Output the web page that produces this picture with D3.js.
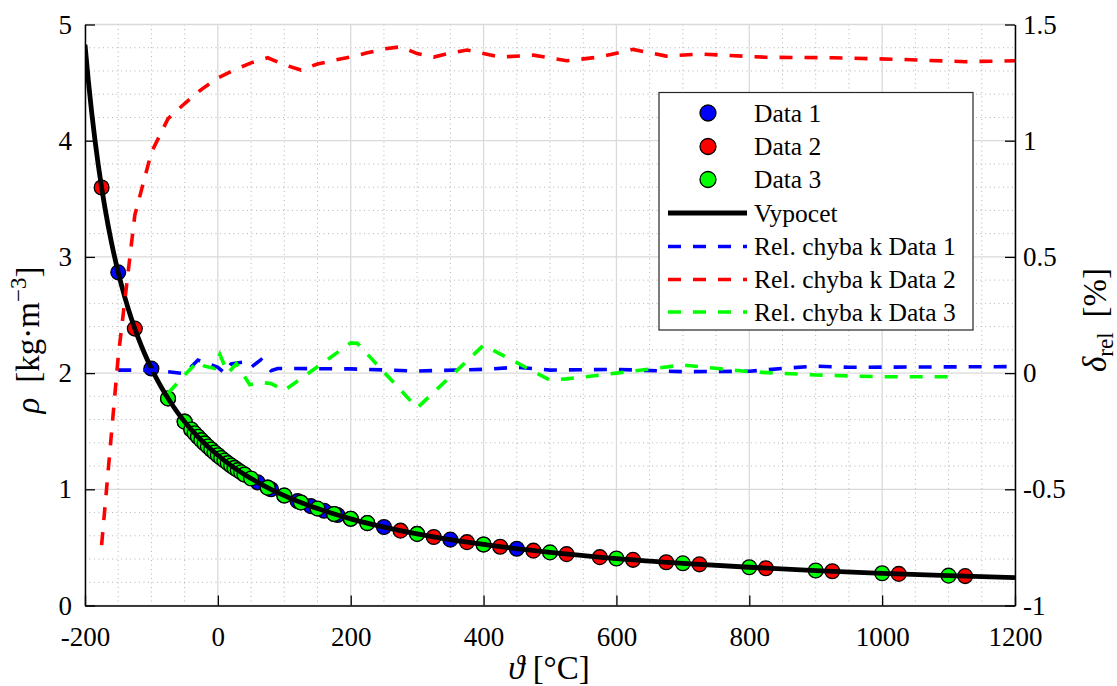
<!DOCTYPE html>
<html><head><meta charset="utf-8">
<script src="https://cdn.jsdelivr.net/npm/d3@7"></script>
<style>
body{margin:0;background:#fff;}
svg{display:block;}
</style>
</head><body>
<svg id="chart" width="1117" height="686"></svg>
<script>
// ---------- DATA ----------
const curveT   = [-200,-195,-190,-185,-180,-170,-160,-150,-140,-130,-120,-110,-100,-90,-80,-70,-60,-50,-40,-20,0,20,40,60,80,100,150,200,250,300,350,400,500,600,700,800,900,1000,1100,1200];
const curveRho = [4.826,4.518,4.246,4.005,3.790,3.423,3.120,2.867,2.652,2.466,2.305,2.164,2.039,1.928,1.828,1.738,1.656,1.582,1.514,1.395,1.293,1.204,1.127,1.060,1.000,0.946,0.834,0.746,0.675,0.616,0.567,0.525,0.457,0.404,0.363,0.329,0.301,0.277,0.257,0.240];

const data1T   = [-150,-100,-50,-40,-30,-20,-10,0,20,40,60,80,100,120,140,160,180,200,250,300,350,400,450];
const data1Rho = [2.867,2.039,1.582,1.514,1.452,1.395,1.342,1.293,1.204,1.127,1.060,1.000,0.946,0.898,0.855,0.815,0.779,0.746,0.675,0.616,0.567,0.525,0.488];

const data2T   = [-175,-125,-75,-25,25,75,125,175,225,275,325,375,425,475,525,575,625,675,725,825,925,1025,1125];
const data2Rho = [3.597,2.383,1.782,1.423,1.184,1.014,0.887,0.788,0.709,0.644,0.590,0.545,0.506,0.472,0.442,0.416,0.393,0.372,0.354,0.321,0.295,0.272,0.253];

const data3T   = [-75,-50,-40,-35,-30,-25,-20,-15,-10,-5,0,5,10,15,20,25,30,35,40,50,75,100,125,150,175,200,225,300,400,500,600,700,800,900,1000,1100];
const data3Rho = [1.782,1.582,1.514,1.482,1.452,1.423,1.395,1.368,1.342,1.317,1.293,1.269,1.247,1.225,1.204,1.184,1.165,1.146,1.127,1.093,1.014,0.946,0.887,0.834,0.788,0.746,0.709,0.616,0.525,0.457,0.404,0.363,0.329,0.301,0.277,0.257];

const err1T = [-150,-100,-50,-30,0,10,20,40,50,65,80,90,200,300,400,450,500,600,700,800,850,900,950,1200];
const err1V = [0.013,0.013,-0.002,0.056,0.025,0.0,0.04,0.048,0.025,0.058,0.01,0.02,0.018,0.009,0.016,0.025,0.013,0.016,0.006,0.008,0.02,0.03,0.025,0.028];

const err2T = [-175,-150,-125,-100,-75,-50,-25,0,25,50,75,100,125,150,175,200,225,250,275,300,325,350,375,425,475,525,575,625,675,725,825,925,1025,1125,1200];
const err2V = [-0.74,0.07,0.68,0.95,1.095,1.16,1.22,1.27,1.305,1.335,1.357,1.327,1.304,1.33,1.346,1.36,1.378,1.395,1.404,1.375,1.36,1.377,1.39,1.36,1.368,1.344,1.36,1.393,1.364,1.373,1.359,1.357,1.35,1.34,1.344];

const err3T = [-75,-50,-30,-20,-5,3,15,28,48,65,80,100,200,210,300,400,500,525,600,700,725,800,900,1000,1100];
const err3V = [-0.087,-0.008,0.05,0.03,0.02,0.08,0.0,0.04,-0.05,-0.04,-0.045,-0.075,0.13,0.128,-0.15,0.12,-0.03,-0.025,0.0,0.035,0.028,0.006,-0.008,-0.016,-0.016];

const xTicks  = [-200,0,200,400,600,800,1000,1200];
const yLTicks = [0,1,2,3,4,5];
const yRTicks = [-1,-0.5,0,0.5,1,1.5];
const yRLabels = ["-1","-0.5","0","0.5","1","1.5"];

const legendLabels = ["Data 1","Data 2","Data 3","Vypocet","Rel. chyba k Data 1","Rel. chyba k Data 2","Rel. chyba k Data 3"];
const colors = {blue:"#0000ff", red:"#ff0000", green:"#00ff00"};

// ---------- LAYOUT ----------
const FONT = "'Liberation Serif'";
const L = 85, R = 1015, T = 24.5, B = 605.5;
const svg = d3.select("#chart");
const x  = d3.scaleLinear().domain([-200,1200]).range([L,R]);
const yL = d3.scaleLinear().domain([0,5]).range([B,T]);
const yR = d3.scaleLinear().domain([-1,1.5]).range([B,T]);

svg.append("defs").append("clipPath").attr("id","plotclip")
  .append("rect").attr("x",L).attr("y",T).attr("width",R-L).attr("height",B-T);

// ---------- GRID ----------
const grid = svg.append("g");
const minorX = d3.range(-200,1201,50).filter(v=>v%200!==0);
const minorY = d3.range(0,5.001,0.2).map(v=>+v.toFixed(1)).filter(v=>Math.abs(v-Math.round(v))>1e-6);
grid.selectAll(".mx").data(minorX).join("line")
  .attr("x1",d=>x(d)).attr("x2",d=>x(d)).attr("y1",T).attr("y2",B)
  .attr("stroke","#b4b4b4").attr("stroke-width",1).attr("stroke-dasharray","1,3.5");
grid.selectAll(".my").data(minorY).join("line")
  .attr("x1",L).attr("x2",R).attr("y1",d=>yL(d)).attr("y2",d=>yL(d))
  .attr("stroke","#b4b4b4").attr("stroke-width",1).attr("stroke-dasharray","1,3.5");
grid.selectAll(".Mx").data(xTicks).join("line")
  .attr("x1",d=>x(d)).attr("x2",d=>x(d)).attr("y1",T).attr("y2",B)
  .attr("stroke","#dadada").attr("stroke-width",1.3);
grid.selectAll(".My").data(yLTicks).join("line")
  .attr("x1",L).attr("x2",R).attr("y1",d=>yL(d)).attr("y2",d=>yL(d))
  .attr("stroke","#dadada").attr("stroke-width",1.3);

// ---------- MARKERS & CURVE ----------
const plot = svg.append("g").attr("clip-path","url(#plotclip)");
function dots(ts, rs, col){
  plot.append("g").selectAll("circle").data(ts.map((t,i)=>[t,rs[i]])).join("circle")
    .attr("cx",d=>x(d[0])).attr("cy",d=>yL(d[1])).attr("r",7.4)
    .attr("fill",col).attr("stroke","#000").attr("stroke-width",1.3);
}
dots(data1T,data1Rho,colors.blue);
dots(data2T,data2Rho,colors.red);
dots(data3T,data3Rho,colors.green);

const curveLine = d3.line().x(d=>x(d[0])).y(d=>yL(d[1])).curve(d3.curveMonotoneX);
plot.append("path").datum(curveT.map((t,i)=>[t,curveRho[i]]))
  .attr("d",curveLine).attr("fill","none").attr("stroke","#000").attr("stroke-width",4.8);

// ---------- ERROR LINES (right axis) ----------
const errLine = d3.line().x(d=>x(d[0])).y(d=>yR(d[1]));
[[err1T,err1V,colors.blue],[err2T,err2V,colors.red],[err3T,err3V,colors.green]].forEach(([ts,vs,col])=>{
  plot.append("path").datum(ts.map((t,i)=>[t,vs[i]]))
    .attr("d",errLine).attr("fill","none").attr("stroke",col)
    .attr("stroke-width",3.6).attr("stroke-dasharray","13,12");
});

// ---------- AXES ----------
const fs = 27;
const gx = svg.append("g").attr("transform",`translate(0,${B})`)
  .call(d3.axisBottom(x).tickValues(xTicks).tickFormat(d=>String(d)).tickSizeInner(-10).tickSizeOuter(0).tickPadding(21));
const gyl = svg.append("g").attr("transform",`translate(${L},0)`)
  .call(d3.axisLeft(yL).tickValues(yLTicks).tickFormat(d=>String(d)).tickSizeInner(-10).tickSizeOuter(0).tickPadding(13));
const gyr = svg.append("g").attr("transform",`translate(${R},0)`)
  .call(d3.axisRight(yR).tickValues(yRTicks).tickFormat((d,i)=>yRLabels[i]).tickSizeInner(-10).tickSizeOuter(0).tickPadding(8));
[gx,gyl,gyr].forEach(g=>{
  g.attr("font-family",null).attr("font-size",null);
  g.selectAll(".domain").attr("stroke","#000").attr("stroke-width",1.5);
  g.selectAll(".tick line").attr("stroke","#000").attr("stroke-width",1.3);
  g.selectAll("text").style("font-family",FONT).style("font-size",fs+"px").attr("fill","#000");
});

// axis titles
const TS = 33;
const xt = svg.append("text").attr("x",549).attr("y",679).attr("text-anchor","middle")
  .style("font-family",FONT).style("font-size",TS+"px");
xt.append("tspan").style("font-style","italic").text("ϑ");
xt.append("tspan").text("\u00a0[°C]");

const ylt = svg.append("text").attr("transform","translate(39,340) rotate(-90)").attr("text-anchor","middle")
  .style("font-family",FONT).style("font-size",TS+"px");
ylt.append("tspan").style("font-style","italic").text("ρ");
ylt.append("tspan").text("\u00a0\u2009[kg·m");
ylt.append("tspan").style("font-size","23px").attr("dy",-13).text("−3");
ylt.append("tspan").attr("dy",13).text("]");

const yrt = svg.append("text").attr("transform","translate(1106,320) rotate(-90)").attr("text-anchor","middle")
  .style("font-family",FONT).style("font-size",TS+"px");
yrt.append("tspan").style("font-style","italic").text("δ");
yrt.append("tspan").style("font-size","23px").attr("dy",7).text("rel");
yrt.append("tspan").attr("dy",-7).text("\u00a0\u2009[%]");

// ---------- LEGEND ----------
const lg = svg.append("g");
lg.append("rect").attr("x",659).attr("y",92.5).attr("width",314).attr("height",237.5)
  .attr("fill","#fff").attr("stroke","#262626").attr("stroke-width",1.2);
const rowY = [113,146.5,179.5,213,246.5,279.5,312];
const legendKinds = [["dot",colors.blue],["dot",colors.red],["dot",colors.green],["solid","#000"],["dash",colors.blue],["dash",colors.red],["dash",colors.green]];
legendKinds.forEach(([k,col],i)=>{
  const yy = rowY[i];
  if(k==="dot"){
    lg.append("circle").attr("cx",708).attr("cy",yy).attr("r",8).attr("fill",col).attr("stroke","#000").attr("stroke-width",1.3);
  } else if(k==="solid"){
    lg.append("line").attr("x1",668).attr("x2",747).attr("y1",yy).attr("y2",yy).attr("stroke",col).attr("stroke-width",4.8);
  } else {
    lg.append("line").attr("x1",668).attr("x2",747).attr("y1",yy).attr("y2",yy).attr("stroke",col).attr("stroke-width",3.6).attr("stroke-dasharray","13,12");
  }
  lg.append("text").attr("x",754).attr("y",yy).attr("dy","0.35em")
    .style("font-family",FONT).style("font-size","25.5px").text(legendLabels[i]);
});
</script>
</body></html>
